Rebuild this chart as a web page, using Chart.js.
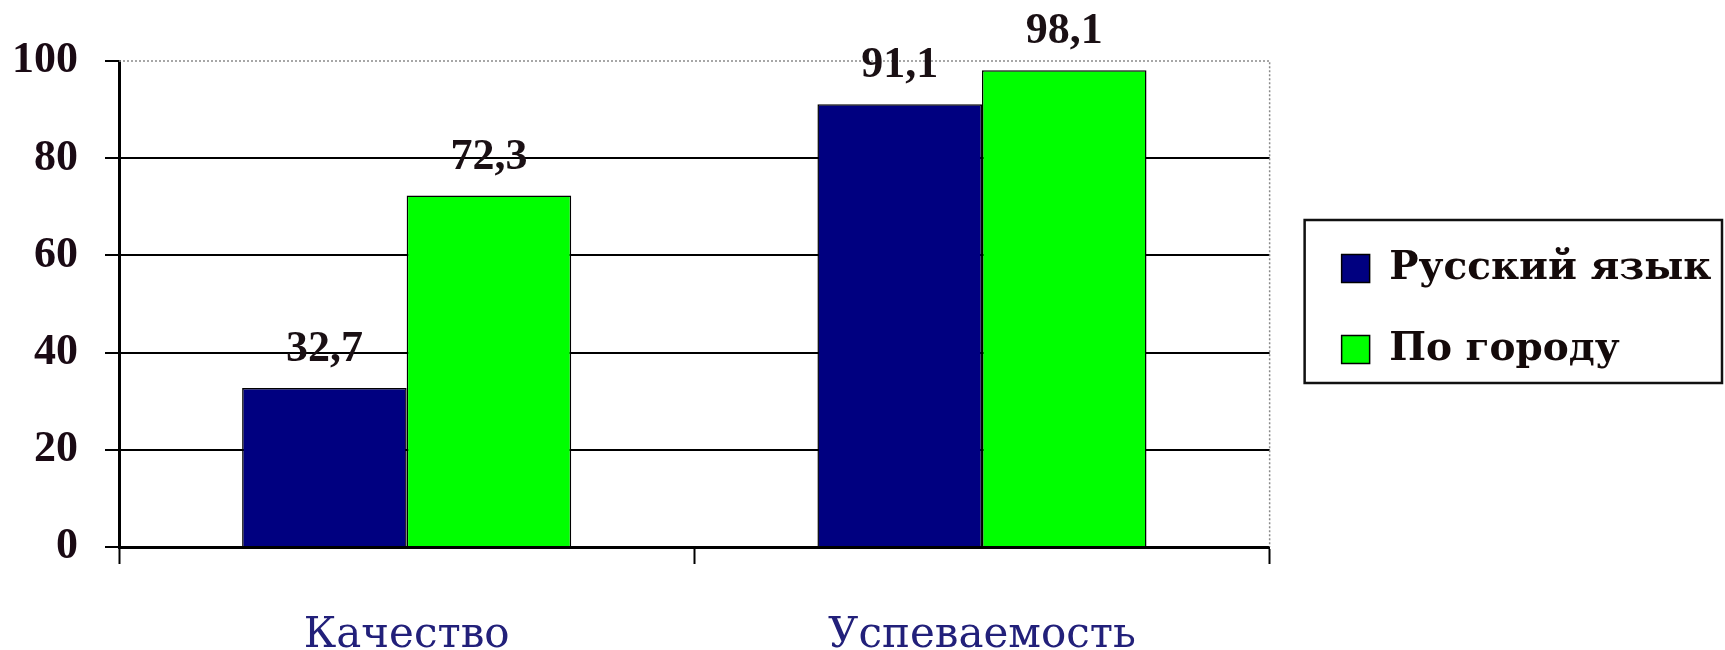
<!DOCTYPE html>
<html><head><meta charset="utf-8">
<script src="https://cdn.jsdelivr.net/npm/chart.js@4.4.0/dist/chart.umd.min.js"></script>
<style>html,body{margin:0;padding:0;background:#fff;}</style>
</head><body>
<canvas id="c" width="1725" height="650"></canvas>
<script>
const categories = ['Качество', 'Успеваемость'];
const seriesNames = ['Русский язык', 'По городу'];
const russianValues = [32.7, 91.1];
const cityValues = [72.3, 98.1];
const yTicks = [0, 20, 40, 60, 80, 100];

const SERIF = '"Liberation Serif", "Times New Roman", serif';
const WIDE_SERIF = '"DejaVu Serif", "Liberation Serif", serif';
const LEG_FONT = 39, LEG_PAD = 42, LEG_BOX = 28;
const AREA_RIGHT = 1267;
const mctx = document.createElement('canvas').getContext('2d');
mctx.font = 'bold ' + LEG_FONT + 'px ' + WIDE_SERIF;
const legTextW = Math.max(...seriesNames.map(s => mctx.measureText(s).width));
const legendW = LEG_PAD + LEG_BOX + LEG_FONT / 2 + legTextW + 10;
const padRight = Math.max(0, 1725 - AREA_RIGHT - legendW);

const legendPlace = {
  id: 'legendPlace',
  afterLayout(chart) {
    const lg = chart.legend;
    const sqX = chart.chartArea.right + 72;
    const dx = (sqX - LEG_PAD) - lg.left;
    lg.left += dx; lg.right = chart.width;
    const itemTop = 249;
    const dy = (itemTop - LEG_PAD) - lg.top;
    lg.top += dy; lg.bottom += dy;
  },
  afterDraw(chart) {
    const lg = chart.legend, hb = lg.legendHitBoxes;
    if (!hb || !hb.length) return;
    const first = hb[0], last = hb[hb.length - 1];
    const ctx = chart.ctx;
    ctx.save();
    ctx.strokeStyle = '#111';
    ctx.lineWidth = 2.5;
    const l = first.left - 37, t = first.top - 29, r = chart.width - 3, b = last.top + last.height + 14;
    ctx.strokeRect(l, t, r - l, b - t);
    ctx.restore();
  }
};

const frame = {
  id: 'frame',
  beforeDatasetsDraw(chart) {
    const {left, right, top, bottom} = chart.chartArea;
    const ctx = chart.ctx;
    ctx.save();
    ctx.strokeStyle = '#8a8a8a';
    ctx.lineWidth = 1.5;
    ctx.setLineDash([2, 2]);
    ctx.beginPath();
    ctx.moveTo(left, top); ctx.lineTo(right, top); ctx.lineTo(right, bottom);
    ctx.stroke();
    ctx.restore();
  }
};

const valueLabels = {
  id: 'valueLabels',
  afterDatasetsDraw(chart) {
    const ctx = chart.ctx;
    ctx.save();
    ctx.font = 'bold 44px ' + SERIF;
    ctx.fillStyle = '#1a1014';
    ctx.textAlign = 'center';
    ctx.textBaseline = 'alphabetic';
    chart.data.datasets.forEach((ds, i) => {
      chart.getDatasetMeta(i).data.forEach((bar, j) => {
        ctx.fillText(String(ds.data[j]).replace('.', ','), bar.x, bar.y - 27);
      });
    });
    ctx.restore();
  }
};

new Chart(document.getElementById('c'), {
  type: 'bar',
  data: {
    labels: categories,
    datasets: [
      { label: seriesNames[0], data: russianValues, backgroundColor: '#000080', borderColor: '#000', borderWidth: 1.5 },
      { label: seriesNames[1], data: cityValues, backgroundColor: '#00ff00', borderColor: '#000', borderWidth: 1.5 }
    ]
  },
  options: {
    responsive: false,
    animation: false,
    devicePixelRatio: 1,
    categoryPercentage: 0.572,
    barPercentage: 1.0,
    layout: { padding: { top: 61, left: 12, right: padRight, bottom: 2 } },
    plugins: {
      legend: {
        position: 'right',
        align: 'start',
        labels: {
          font: { family: WIDE_SERIF, size: LEG_FONT, weight: 'bold' },
          color: '#140a0a',
          boxWidth: LEG_BOX,
          boxHeight: LEG_BOX,
          padding: LEG_PAD
        }
      },
      tooltip: { enabled: false }
    },
    scales: {
      x: {
        afterFit: (scale) => { scale.height = 101; },
        grid: { display: true, drawOnChartArea: false, drawTicks: true, tickLength: 17, tickColor: '#000', tickWidth: 2, offset: true },
        border: { color: '#000', width: 3 },
        ticks: { font: { family: WIDE_SERIF, size: 42 }, color: '#22207a', padding: 47 }
      },
      y: {
        min: 0, max: 100,
        afterFit: (scale) => { scale.width = 107; },
        afterBuildTicks: (scale) => { scale.ticks = yTicks.map(v => ({ value: v })); },
        grid: {
          color: (c) => (c.tick && c.tick.value === 100) ? 'rgba(0,0,0,0)' : '#000',
          tickColor: '#000', lineWidth: 2, tickLength: 14, tickWidth: 2
        },
        border: { color: '#000', width: 3 },
        ticks: { font: { family: SERIF, size: 44, weight: 'bold' }, color: '#1a0a14', padding: 27 }
      }
    }
  },
  plugins: [legendPlace, frame, valueLabels]
});
</script>
</body></html>
